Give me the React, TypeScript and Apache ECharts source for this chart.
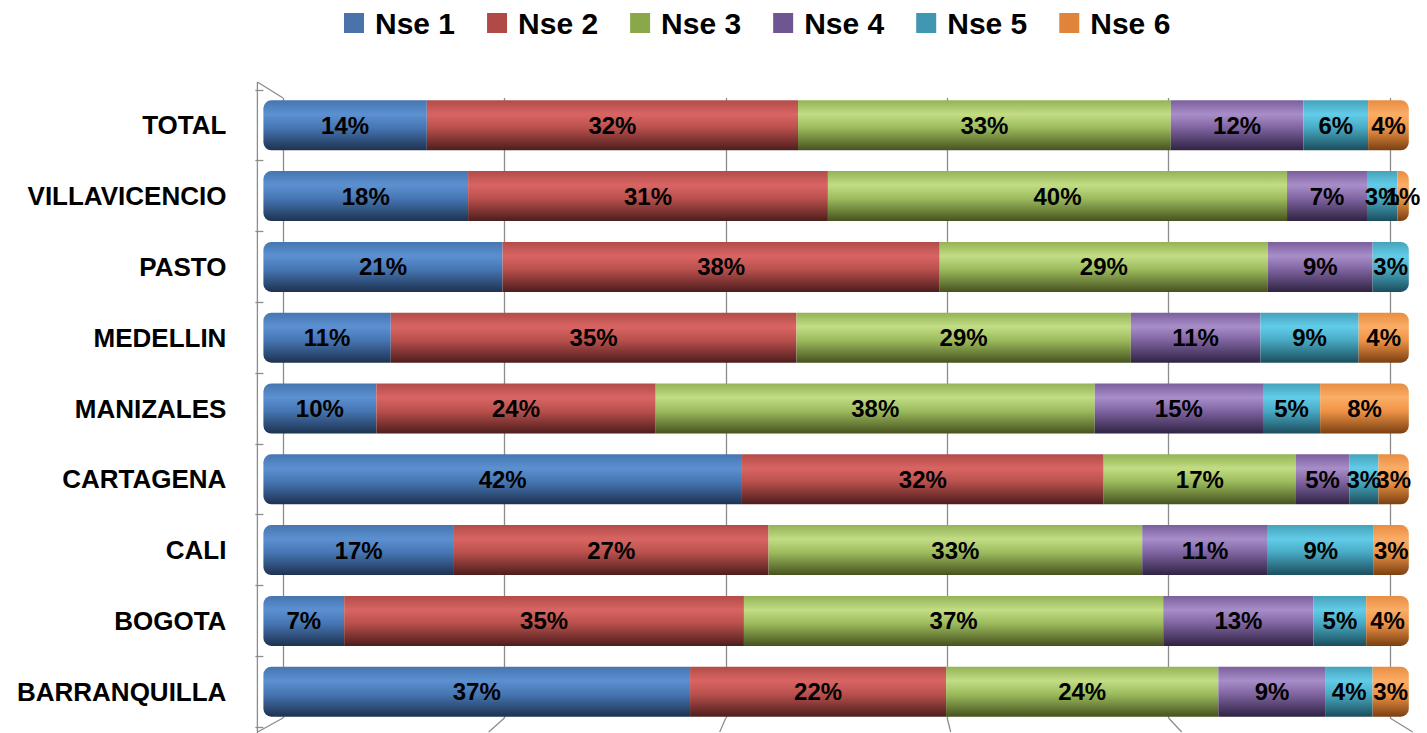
import React, { useEffect, useRef } from "react";
import * as echarts from "echarts";

const categories = ["BARRANQUILLA", "BOGOTA", "CALI", "CARTAGENA", "MANIZALES", "MEDELLIN", "PASTO", "VILLAVICENCIO", "TOTAL"];
const seriesNames = ["Nse 1", "Nse 2", "Nse 3", "Nse 4", "Nse 5", "Nse 6"];
const nse1 = [37.25, 7.05, 16.64, 41.78, 9.86, 11.12, 20.88, 17.87, 14.27];
const nse2 = [22.35, 34.9, 27.47, 31.58, 24.39, 35.42, 38.16, 31.41, 32.41];
const nse3 = [23.77, 36.6, 32.63, 16.79, 38.33, 29.19, 28.65, 40.08, 32.55];
const nse4 = [9.38, 13.13, 10.97, 4.65, 14.69, 11.31, 9.14, 6.98, 11.57];
const nse5 = [4.09, 4.59, 9.25, 2.55, 4.99, 8.58, 3.16, 2.65, 5.66];
const nse6 = [3.16, 3.72, 3.06, 2.65, 7.74, 4.38, 0, 1.0, 3.55];
const xTicks = [0, 20, 40, 60, 80, 100];

const legendColors = ["#4a73a9", "#b04a47", "#8aa74a", "#6f5591", "#4197b2", "#e0843a"];
// [top, highlight, mid, bottom]
const gradients = [
  ["#4576b0", "#5c90d1", "#4676b3", "#1d3250"],
  ["#b24c49", "#d96563", "#b9504d", "#4d1d1c"],
  ["#94b256", "#c2dd84", "#9cbb5c", "#46521f"],
  ["#7a5f9c", "#a88ec9", "#7f64a1", "#2f2342"],
  ["#45a2bb", "#62cce8", "#48aac4", "#1b4d5c"],
  ["#e88d42", "#fbad66", "#ef9448", "#7a3f10"],
];

const allSeries = [nse1, nse2, nse3, nse4, nse5, nse6];

export default function App() {
  const ref = useRef<HTMLDivElement>(null);
  useEffect(() => {
    if (!ref.current) return;
    const chart = echarts.init(ref.current, null, { renderer: "svg" });
    const rowSums = categories.map((_, i) => allSeries.reduce((s, arr) => s + arr[i], 0));
    const lastNonZero = categories.map((_, i) => {
      let k = 0;
      allSeries.forEach((arr, si) => {
        if (arr[i] > 0) k = si;
      });
      return k;
    });

    const series = allSeries.map((arr, si) => ({
      name: seriesNames[si],
      type: "bar",
      stack: "total",
      xAxisIndex: 0,
      yAxisIndex: 0,
      barWidth: 50,
      itemStyle: {
        color: new echarts.graphic.LinearGradient(0, 0, 0, 1, [
          { offset: 0, color: gradients[si][0] },
          { offset: 0.28, color: gradients[si][1] },
          { offset: 0.55, color: gradients[si][2] },
          { offset: 1, color: gradients[si][3] },
        ]),
      },
      label: {
        show: true,
        position: "inside",
        color: "#000",
        fontFamily: "Liberation Sans",
        fontWeight: "bold",
        fontSize: 24,
        formatter: (p: any) => {
          const raw = arr[p.dataIndex];
          return raw > 0 ? Math.round(raw) + "%" : "";
        },
      },
      data: arr.map((v, i) => {
        const r: number[] = [0, 0, 0, 0];
        if (si === 0) {
          r[0] = 8;
          r[3] = 8;
        }
        if (si === lastNonZero[i]) {
          r[1] = 8;
          r[2] = 8;
        }
        return { value: (v / rowSums[i]) * 100, itemStyle: { borderRadius: r } };
      }),
    }));

    const backLeft = 283;
    const backWidth = 1107;
    const frontLeft = 257.7;
    const frontWidth = 1155;
    const lineStyle = { stroke: "#8c8c8c", lineWidth: 1.3 };
    const graphics: any[] = xTicks.map((t) => ({
      type: "line",
      silent: true,
      z: 0,
      shape: {
        x1: backLeft + (t / 100) * backWidth,
        y1: 718,
        x2: frontLeft + (t / 100) * frontWidth,
        y2: 732,
      },
      style: lineStyle,
    }));
    graphics.push({ type: "line", silent: true, z: 0, shape: { x1: 257.4, y1: 82, x2: 257.4, y2: 733 }, style: lineStyle });
    graphics.push({ type: "line", silent: true, z: 0, shape: { x1: 257.4, y1: 82, x2: 283, y2: 98 }, style: lineStyle });

    chart.setOption({
      animation: false,
      backgroundColor: "#ffffff",
      legend: {
        left: 339,
        top: 3,
        itemWidth: 20,
        itemHeight: 20,
        itemGap: 32,
        icon: "rect",
        textStyle: {
          fontFamily: "Liberation Sans",
          fontWeight: "bold",
          fontSize: 30,
          color: "#000",
          padding: [0, 0, 0, 6],
        },
        data: seriesNames.map((n, i) => ({ name: n, itemStyle: { color: legendColors[i] } })),
      },
      grid: [
        { left: 263.4, width: 1145.4, top: 89.9, height: 637.2 },
        { left: backLeft, width: backWidth, top: 98, height: 620 },
      ],
      xAxis: [
        { type: "value", gridIndex: 0, min: 0, max: 100, show: false },
        {
          type: "value",
          gridIndex: 1,
          min: 0,
          max: 100,
          interval: 20,
          axisLine: { show: false },
          axisTick: { show: false },
          axisLabel: { show: false },
          splitLine: { show: true, lineStyle: { color: "#8c8c8c", width: 1.3 } },
        },
      ],
      yAxis: [
        {
          type: "category",
          gridIndex: 0,
          data: categories,
          offset: 6,
          axisLine: { show: false },
          axisTick: { show: true, length: 8, lineStyle: { color: "#8c8c8c", width: 1.3 } },
          axisLabel: {
            margin: 31,
            color: "#000",
            fontFamily: "Liberation Sans",
            fontWeight: "bold",
            fontSize: 26,
          },
        },
        { type: "category", gridIndex: 1, data: categories, show: false },
      ],
      graphic: graphics,
      series,
    });
    return () => chart.dispose();
  }, []);
  return (
    <div
      ref={ref}
      style={{ position: "fixed", left: 0, top: 0, width: 1427, height: 733, background: "#fff" }}
    />
  );
}
